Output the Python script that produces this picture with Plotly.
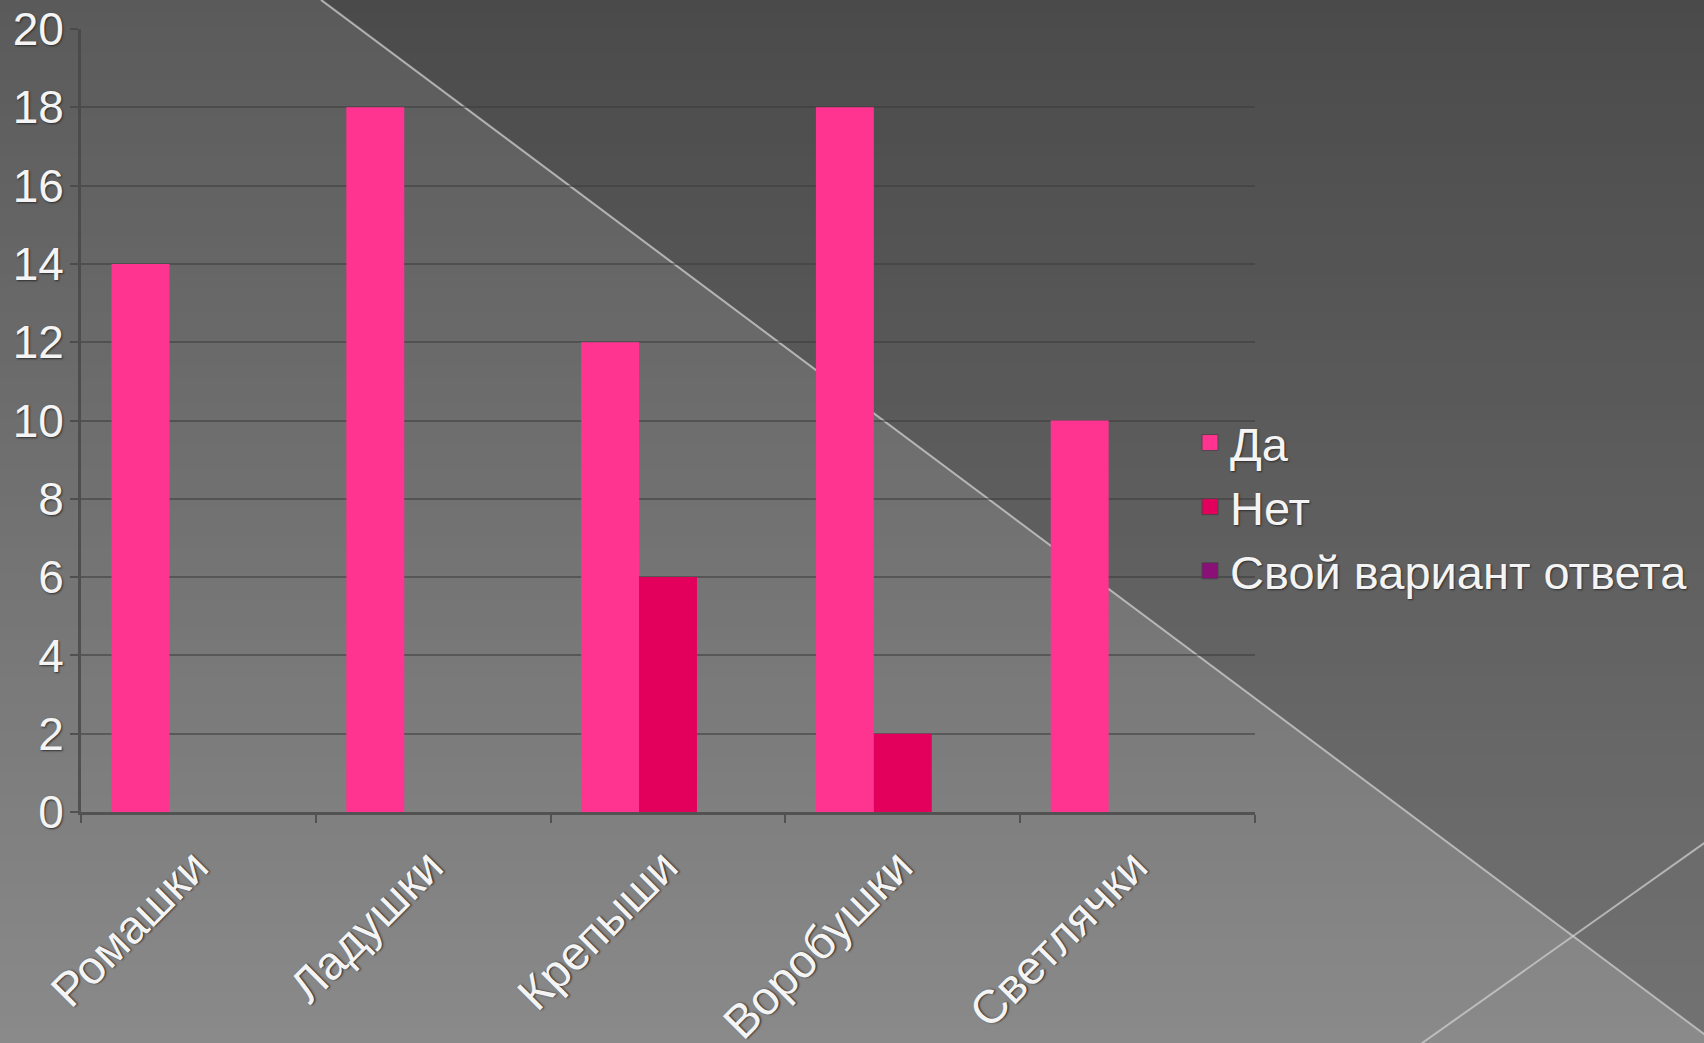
import plotly.graph_objects as go

categories = ["Ромашки", "Ладушки", "Крепыши", "Воробушки", "Светлячки"]
series_names = ["Да", "Нет", "Свой вариант ответа"]
da = [14, 18, 12, 18, 10]
net = [0, 0, 6, 2, 0]
svoy = [0, 0, 0, 0, 0]
series_values = [da, net, svoy]
colors = ["#ff3390", "#e2005c", "#8a1078"]
y_ticks = list(range(0, 21, 2))

W, H = 1704, 1043
L, R, T, B = 81, 1255, 29, 812


def px(x):
    return (x - L) / (R - L)


def py(y):
    return (B - y) / (B - T)


FONT = "Liberation Sans, Arial, sans-serif"
TXT = "#f4f4f4"
SHADOW = "1px 1px 2px rgba(40,40,40,0.9)"

fig = go.Figure()
for name, vals, col in zip(series_names, series_values, colors):
    fig.add_trace(go.Bar(x=categories, y=vals, name=name, legendgroup=name,
                         showlegend=False,
                         marker=dict(color=col, line=dict(width=0))))
# legend entries with larger square swatches
for name, col in zip(series_names, colors):
    fig.add_trace(go.Scatter(x=[None], y=[None], name=name, legendgroup=name,
                             mode="markers",
                             marker=dict(symbol="square", size=16, color=col,
                                         line=dict(color="rgba(70,70,70,0.9)", width=1))))

shapes = []
# vertical gradient background
N = 80
top_c, bot_c = 90, 138
for i in range(N):
    y0 = H * i / N
    y1 = H * (i + 1) / N + 1
    c = round(top_c + (bot_c - top_c) * (i + 0.5) / N)
    shapes.append(dict(type="rect", xref="paper", yref="paper",
                       x0=px(-5), x1=px(W + 5), y0=py(y1), y1=py(y0),
                       fillcolor=f"rgb({c},{c},{c})", line=dict(width=0),
                       layer="below"))
# darker triangle top-right
shapes.append(dict(type="path", xref="paper", yref="paper",
                   path=f"M {px(321)},{py(-2)} L {px(W + 5)},{py(-2)} L {px(W + 5)},{py(1038)} Z",
                   fillcolor="rgba(0,0,0,0.17)", line=dict(width=0), layer="below"))
# decorative lines
shapes.append(dict(type="line", xref="paper", yref="paper",
                   x0=px(321), y0=py(0), x1=px(1720), y1=py(1046),
                   line=dict(color="rgba(205,205,205,0.75)", width=2), layer="below"))
shapes.append(dict(type="line", xref="paper", yref="paper",
                   x0=px(1418), y0=py(1046), x1=px(1720), y1=py(832),
                   line=dict(color="rgba(205,205,205,0.75)", width=2), layer="below"))

fig.update_layout(
    width=W, height=H,
    margin=dict(l=L, r=W - R, t=T, b=H - B, autoexpand=False),
    paper_bgcolor="#6e6e6e",
    plot_bgcolor="rgba(0,0,0,0)",
    barmode="group", bargap=0.26, bargroupgap=0,
    shapes=shapes,
    font=dict(family=FONT, color=TXT, size=44, shadow=SHADOW),
    legend=dict(
        xref="container", yref="container",
        x=1190 / W, y=1 - 507 / H, xanchor="left", yanchor="middle",
        font=dict(size=47, color=TXT, family=FONT, shadow=SHADOW),
        bgcolor="rgba(0,0,0,0)", tracegroupgap=0, itemwidth=30,
        itemsizing="trace",
    ),
    showlegend=True,
)
fig.update_yaxes(
    range=[0, 20], tickvals=y_ticks, ticktext=[str(v) for v in y_ticks],
    showgrid=True, gridcolor="rgba(60,60,60,0.55)", gridwidth=2,
    showline=True, linecolor="rgba(70,70,70,0.8)", linewidth=3,
    ticks="outside", ticklen=8, tickwidth=2, tickcolor="rgba(70,70,70,0.8)",
    tickfont=dict(size=46, color=TXT, family=FONT, shadow=SHADOW),
    ticklabelstandoff=-3, zeroline=False, fixedrange=True,
)
fig.update_xaxes(
    type="category", tickangle=-45, tickson="boundaries",
    showline=True, linecolor="rgba(70,70,70,0.8)", linewidth=3,
    ticks="outside", ticklen=8, tickwidth=2, tickcolor="rgba(70,70,70,0.8)",
    tickfont=dict(size=47, color=TXT, family=FONT, shadow=SHADOW),
    ticklabelstandoff=5, ticklabelshift=-4,
    showgrid=False, fixedrange=True,
)

fig.write_html(
    "out.html",
    config={"displayModeBar": False},
    post_script="document.body.style.margin='0';document.body.style.overflow='hidden';",
)
